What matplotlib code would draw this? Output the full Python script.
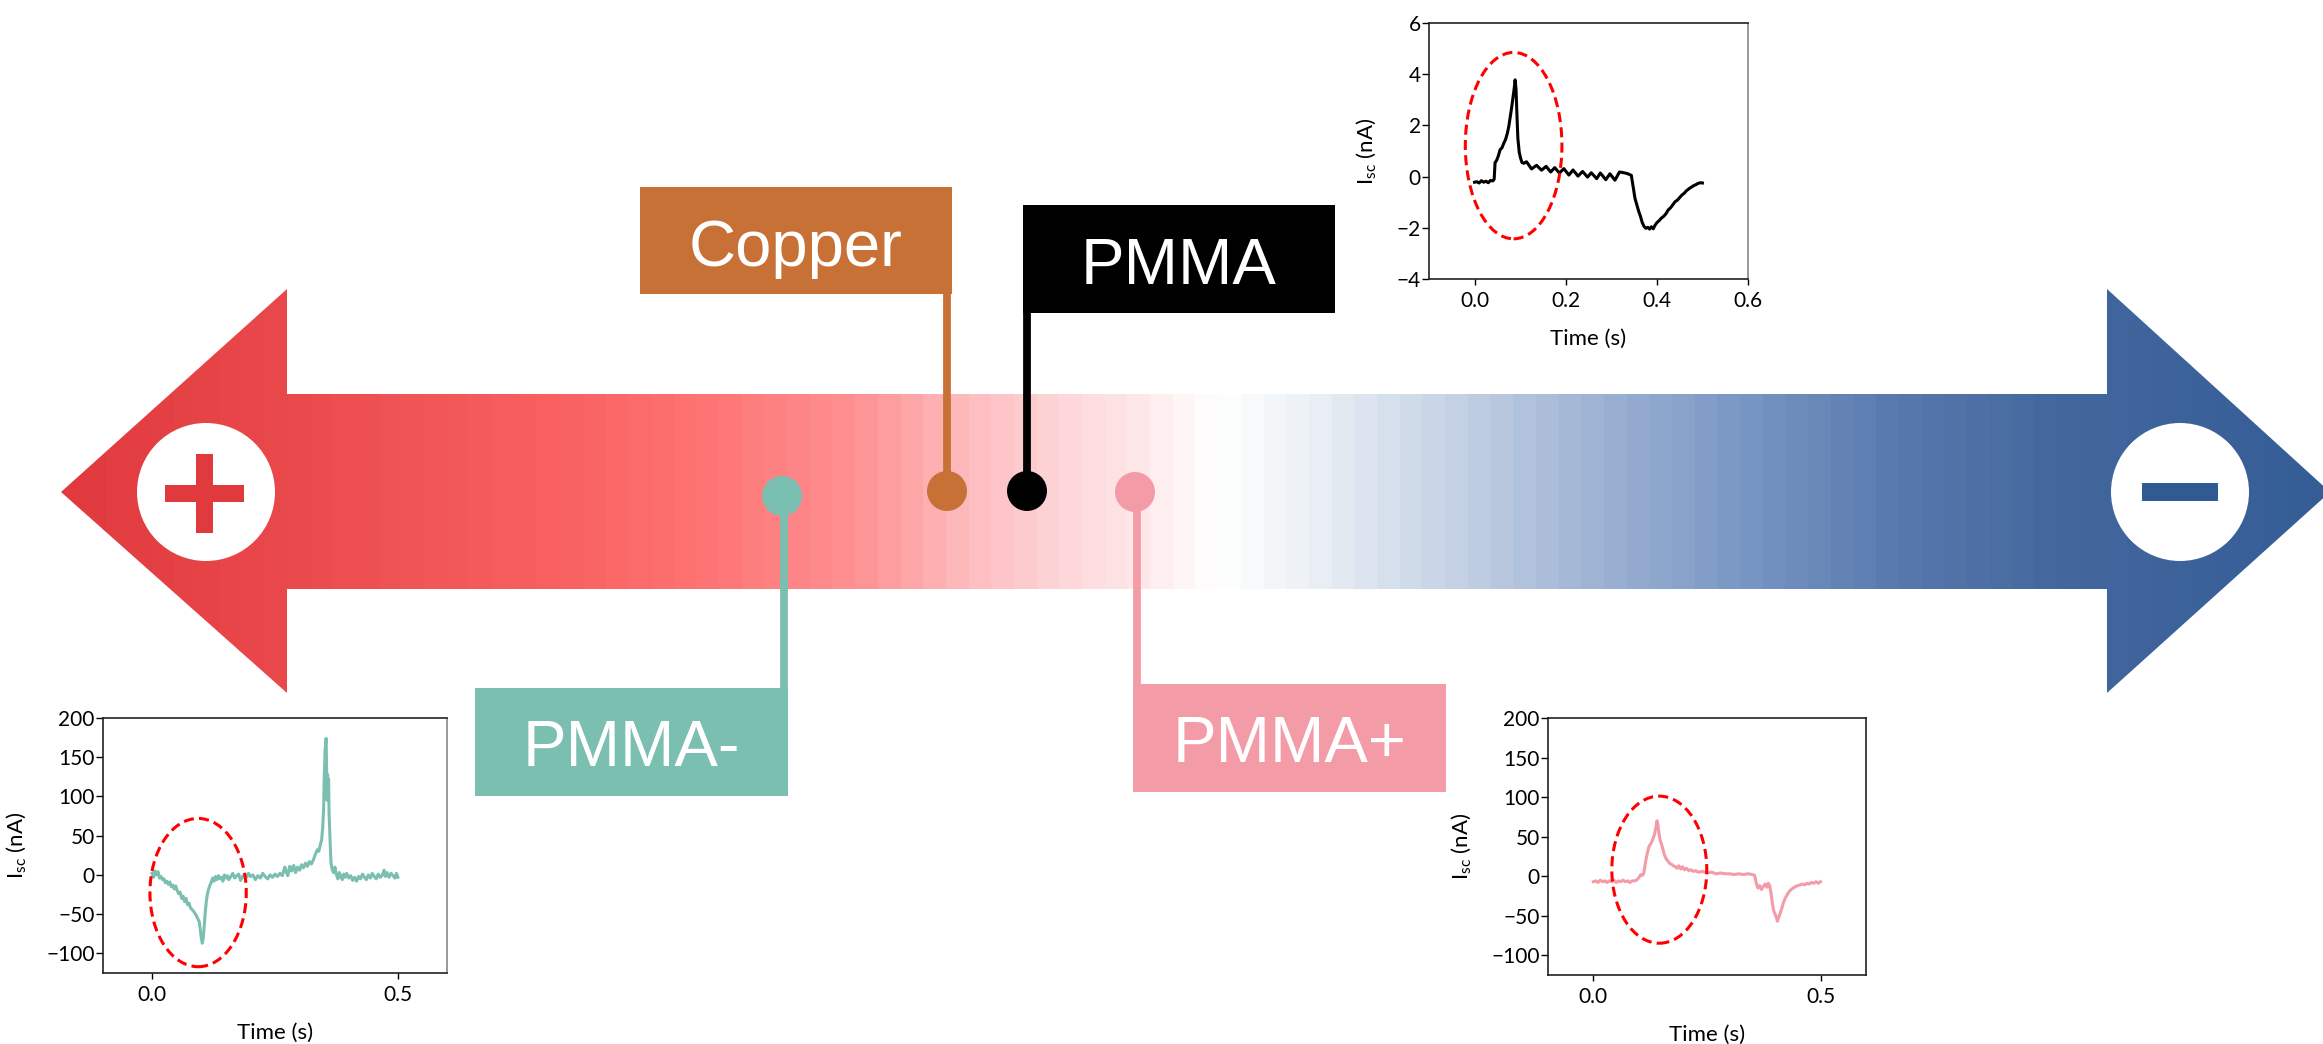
import numpy as np
import matplotlib
matplotlib.use("Agg")
import matplotlib.pyplot as plt
from matplotlib.patches import Polygon, Circle, Rectangle, Ellipse
from matplotlib.colors import LinearSegmentedColormap

plt.rcParams['font.family'] = ['Lato', 'DejaVu Sans']
plt.rcParams['mathtext.default'] = 'regular'

# ---- data ----
# material labels along the series
materials = ['PMMA-', 'Copper', 'PMMA', 'PMMA+']
material_colors = ['#7ABFAF', '#C87137', '#000000', '#F39CA8']

# PMMA (black) short-circuit current, nA
t_pmma = [0.000, 0.005, 0.010, 0.015, 0.020, 0.025, 0.030, 0.035, 0.040, 0.043,
          0.045, 0.048, 0.052, 0.056, 0.060, 0.064, 0.068, 0.072, 0.075, 0.078,
          0.081, 0.084, 0.087, 0.089, 0.091, 0.093, 0.095, 0.098, 0.101, 0.104,
          0.108, 0.114, 0.125, 0.136, 0.147, 0.157, 0.167, 0.176, 0.186, 0.196,
          0.207, 0.216, 0.227, 0.237, 0.248, 0.256, 0.268, 0.276, 0.288, 0.297,
          0.308, 0.318, 0.325, 0.330, 0.335, 0.340, 0.344, 0.348, 0.352, 0.356,
          0.360, 0.364, 0.368, 0.372, 0.376, 0.380, 0.384, 0.388, 0.392, 0.396,
          0.400, 0.405, 0.410, 0.415, 0.420, 0.425, 0.430, 0.435, 0.440, 0.445,
          0.450, 0.455, 0.460, 0.465, 0.470, 0.475, 0.480, 0.485, 0.490, 0.495,
          0.500]
i_pmma = [-0.22, -0.20, -0.25, -0.16, -0.22, -0.18, -0.24, -0.15, -0.17, -0.10,
          0.55, 0.62, 0.80, 1.05, 1.12, 1.30, 1.45, 1.70, 1.95, 2.30,
          2.65, 3.05, 3.45, 3.78, 3.40, 2.40, 1.50, 0.95, 0.72, 0.55,
          0.52, 0.58, 0.30, 0.44, 0.25, 0.40, 0.18, 0.35, 0.14, 0.31,
          0.06, 0.26, 0.02, 0.20, -0.02, 0.15, -0.08, 0.14, -0.12, 0.11,
          -0.14, 0.18, 0.16, 0.14, 0.12, 0.08, 0.05, -0.40, -0.85, -1.10,
          -1.35, -1.55, -1.80, -1.95, -2.02, -1.98, -2.05, -1.96, -2.04, -1.90,
          -1.80, -1.72, -1.62, -1.55, -1.45, -1.30, -1.22, -1.10, -0.98, -0.92,
          -0.82, -0.72, -0.65, -0.55, -0.48, -0.42, -0.36, -0.32, -0.27, -0.24,
          -0.25]

# PMMA- (teal) short-circuit current, nA
t_neg = [0.000, 0.003, 0.006, 0.009, 0.012, 0.015, 0.018, 0.021, 0.024, 0.027,
         0.030, 0.033, 0.036, 0.039, 0.042, 0.045, 0.048, 0.051, 0.054, 0.057,
         0.060, 0.063, 0.066, 0.069, 0.072, 0.075, 0.078, 0.081, 0.084, 0.087,
         0.090, 0.093, 0.096, 0.098, 0.100, 0.102, 0.104, 0.106, 0.108, 0.110,
         0.112, 0.114, 0.117, 0.120, 0.123, 0.126, 0.129, 0.132, 0.135, 0.138,
         0.141, 0.144, 0.147, 0.150, 0.153, 0.156, 0.160, 0.164, 0.168, 0.172,
         0.176, 0.180, 0.184, 0.188, 0.192, 0.196, 0.200, 0.205, 0.210, 0.215,
         0.220, 0.225, 0.230, 0.235, 0.240, 0.245, 0.250, 0.255, 0.260, 0.265,
         0.270, 0.273, 0.276, 0.280, 0.284, 0.288, 0.292, 0.296, 0.300, 0.304,
         0.308, 0.312, 0.316, 0.320, 0.324, 0.328, 0.332, 0.336, 0.339, 0.342,
         0.345, 0.347, 0.349, 0.350, 0.352, 0.354, 0.355, 0.356, 0.357, 0.358,
         0.359, 0.360, 0.362, 0.364, 0.366, 0.369, 0.372, 0.375, 0.378, 0.381,
         0.384, 0.387, 0.390, 0.393, 0.396, 0.400, 0.404, 0.408, 0.412, 0.416,
         0.420, 0.424, 0.428, 0.432, 0.436, 0.440, 0.444, 0.448, 0.452, 0.456,
         0.460, 0.464, 0.468, 0.472, 0.475, 0.478, 0.482, 0.486, 0.490, 0.494,
         0.497, 0.500]
i_neg = [2, -3, 5, 0, 4, -4, -2, -6, -5, -10,
         -8, -12, -9, -15, -13, -18, -14, -20, -24, -22,
         -30, -27, -34, -30, -38, -36, -42, -44, -46, -49,
         -52, -56, -60, -70, -80, -87, -80, -65, -48, -35,
         -26, -20, -14, -10, -4, -8, -2, -6, -1, -5,
         -3, -8, 0, -4, -1, -6, -2, 2, -4, -1,
         1, -7, -2, 0, -3, 2, -2, 0, -6, -1,
         -4, 2, -2, -5, 0, -3, 1, -2, 2, -1,
         10, 4, -1, 11, 5, 12, 3, 10, 6, 13,
         9, 15, 11, 17, 14, 19, 26, 32, 30, 38,
         45, 60, 85, 120, 160, 174, 130, 95, 128, 100,
         122, 80, 45, 15, 8, 3, 10, 0, -5, 3,
         -2, -6, 1, -3, 2, -4, -1, -7, -3, -8,
         -2, -5, 1, -3, -6, 0, -4, 2, -2, -5,
         1, -3, -1, 6, -2, 3, -3, 2, -1, -4,
         2, -3]

# PMMA+ (pink) short-circuit current, nA
t_pos = [0.000, 0.005, 0.010, 0.015, 0.020, 0.025, 0.030, 0.035, 0.040, 0.045,
         0.050, 0.055, 0.060, 0.065, 0.070, 0.075, 0.080, 0.085, 0.090, 0.095,
         0.100, 0.104, 0.108, 0.111, 0.113, 0.116, 0.119, 0.122, 0.125, 0.128,
         0.131, 0.134, 0.137, 0.140, 0.142, 0.144, 0.147, 0.150, 0.153, 0.156,
         0.160, 0.164, 0.168, 0.172, 0.176, 0.180, 0.184, 0.188, 0.192, 0.196,
         0.200, 0.205, 0.210, 0.215, 0.220, 0.225, 0.230, 0.240, 0.250, 0.260,
         0.270, 0.280, 0.290, 0.300, 0.310, 0.320, 0.330, 0.340, 0.350, 0.355,
         0.358, 0.362, 0.366, 0.370, 0.374, 0.378, 0.382, 0.385, 0.388, 0.391,
         0.394, 0.397, 0.400, 0.403, 0.405, 0.408, 0.411, 0.414, 0.418, 0.422,
         0.426, 0.430, 0.435, 0.440, 0.445, 0.450, 0.455, 0.460, 0.465, 0.470,
         0.475, 0.480, 0.485, 0.490, 0.495, 0.500]
i_pos = [-7, -6, -8, -5, -7, -6, -8, -6, -7, -5,
         -8, -6, -7, -5, -7, -6, -8, -6, -6, -5,
         -2, 2, 1, 4, 12, 22, 30, 37, 40, 43,
         47, 52, 60, 70, 64, 55, 45, 40, 34, 27,
         22, 19, 16, 15, 13, 12, 10, 13, 9, 12,
         8, 10, 7, 8, 6, 7, 5, 6, 4, 5,
         3, 4, 3, 3, 2, 3, 2, 3, 2, 1,
         -8, -15, -12, -17, -13, -10, -14, -9, -12, -22,
         -35, -44, -48, -53, -57, -52, -47, -42, -34, -28,
         -24, -20, -17, -15, -13, -12, -11, -10, -11, -9,
         -10, -8, -9, -7, -9, -7]

pmma_yticks = [-4, -2, 0, 2, 4, 6]
pmma_xticks = [0.0, 0.2, 0.4, 0.6]
isc_yticks = [-100, -50, 0, 50, 100, 150, 200]
isc_xticks = [0.0, 0.5]

W, H = 2323, 1044
fig = plt.figure(figsize=(W / 100, H / 100), dpi=100)
ax = fig.add_axes([0, 0, 1, 1])
ax.set_xlim(0, W)
ax.set_ylim(H, 0)
ax.axis('off')

# ---- double headed gradient arrow ----
arrow = [(61, 492), (287, 289), (287, 394), (2107, 394), (2107, 289), (2330, 492),
         (2107, 693), (2107, 589), (287, 589), (287, 693)]
stops = [(0.000, '#E03A3E'), (0.101, '#EB4A4D'), (0.220, '#F96262'), (0.282, '#FE7474'),
         (0.349, '#FE9193'), (0.393, '#FDB8BA'), (0.437, '#FDD4D6'), (0.472, '#FEE6E8'),
         (0.510, '#FFFFFF'), (0.547, '#EEF2F7'), (0.614, '#C6D3E5'), (0.680, '#9DB2D3'),
         (0.746, '#7896C3'), (0.812, '#5879AE'), (0.879, '#44689E'), (1.000, '#345D96')]
cmap = LinearSegmentedColormap.from_list('polarity', stops, N=100)
grad = np.linspace(0, 1, 1000).reshape(1, -1)
im = ax.imshow(grad, extent=[61, 2330, 693, 289], cmap=cmap, aspect='auto',
               interpolation='nearest', zorder=1)
poly = Polygon(arrow, closed=True, facecolor='none', edgecolor='none', transform=ax.transData)
ax.add_patch(poly)
im.set_clip_path(poly)

# plus / minus badges
ax.add_patch(Circle((206, 492), 69, facecolor='white', edgecolor='none', zorder=2))
ax.add_patch(Rectangle((196, 454), 17, 79, facecolor='#E0393E', zorder=3))
ax.add_patch(Rectangle((165, 485), 79, 17, facecolor='#E0393E', zorder=3))
ax.add_patch(Circle((2180, 492), 69, facecolor='white', edgecolor='none', zorder=2))
ax.add_patch(Rectangle((2142, 483), 76, 18, facecolor='#2F5A94', zorder=3))

# ---- material markers, stems and label boxes ----
dot_x = [782, 947, 1027, 1135]
dot_y = [496, 491, 491, 492]
boxes = [(475, 688, 313, 108), (640, 187, 312, 107), (1023, 205, 312, 108), (1133, 684, 313, 108)]
stem_x = [784, 947, 1027, 1137]
stem_end = [688, 294, 313, 684]
baselines = [766, 266, 284, 762]

for i in range(len(materials)):
    c = material_colors[i]
    bx, by, bw, bh = boxes[i]
    ax.add_patch(Rectangle((bx, by), bw, bh, facecolor=c, edgecolor='none', zorder=3))
    ax.plot([stem_x[i], stem_x[i]], [dot_y[i], stem_end[i]], color=c, lw=5.6,
            solid_capstyle='butt', zorder=3)
    ax.add_patch(Circle((dot_x[i], dot_y[i]), 20, facecolor=c, edgecolor='none', zorder=4))
    ax.text(bx + bw / 2, baselines[i], materials[i], ha='center', va='baseline',
            fontsize=47, color='white', family=['Liberation Sans', 'DejaVu Sans'], zorder=5)


# ---- inset current traces ----
def inset(box, t, i, color, xlim, ylim, xticks, yticks, xfmt, ell, right_col):
    l, top, r, b = box
    a = fig.add_axes([l / W, 1 - b / H, (r - l) / W, (b - top) / H])
    a.plot(t, i, color=color, lw=2.2, zorder=3)
    a.add_patch(Ellipse(ell[:2], ell[2], ell[3], facecolor='none', edgecolor='#FF0000',
                        lw=2.2, linestyle=(0, (3.3, 1.7)), zorder=4))
    a.set_xlim(*xlim)
    a.set_ylim(*ylim)
    a.set_xticks(xticks)
    a.set_xticklabels([xfmt % v for v in xticks])
    a.set_yticks(yticks)
    a.tick_params(axis='y', length=5, width=1, pad=1, labelsize=15)
    a.tick_params(axis='x', length=4, width=1, pad=4.5, labelsize=15)
    for s in a.spines.values():
        s.set_linewidth(1.2)
        s.set_color('#222222')
    a.spines['right'].set_color(right_col)
    a.set_xlabel('Time (s)', fontsize=16, labelpad=13)
    a.set_ylabel(r'I$_{sc}$ (nA)', fontsize=16, labelpad=13)
    return a


inset((1429, 23, 1748, 279), t_pmma, i_pmma, 'black', (-0.1, 0.6), (-4, 6),
      pmma_xticks, pmma_yticks, '%.1f', (0.0857, 1.21, 0.212, 7.28), '#888888')
inset((103, 718, 447, 973), t_neg, i_neg, material_colors[0], (-0.1, 0.6), (-125, 200),
      isc_xticks, isc_yticks, '%.1f', (0.0935, -22.5, 0.196, 189), '#888888')
inset((1548, 718, 1866, 975), t_pos, i_pos, material_colors[3], (-0.1, 0.6), (-125, 200),
      isc_xticks, isc_yticks, '%.1f', (0.145, 8.2, 0.209, 186), '#222222')

fig.savefig('out.png', dpi=100, facecolor='white')
